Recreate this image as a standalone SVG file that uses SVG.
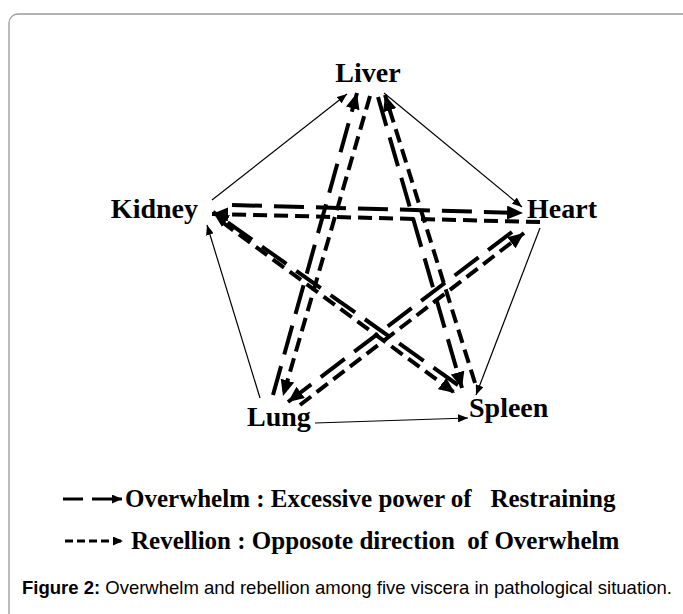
<svg xmlns="http://www.w3.org/2000/svg" width="683" height="614" viewBox="0 0 683 614">
<style>
.lbl{font-family:"Liberation Serif","Times New Roman",serif;font-weight:bold;font-size:28px;fill:#000}
.leg{font-family:"Liberation Serif","Times New Roman",serif;font-weight:bold;font-size:25px;fill:#000;white-space:pre}
.cap{font-family:"Liberation Sans",Arial,sans-serif;font-size:18.5px;fill:#000}
.thin{stroke:#000;stroke-width:1.2;fill:none;marker-end:url(#ah)}
.ow{stroke:#000;stroke-width:4;fill:none;stroke-dasharray:30 12;marker-end:url(#bh)}
.rv{stroke:#000;stroke-width:4;fill:none;stroke-dasharray:14 7;marker-end:url(#bh)}
</style>
<defs>
<marker id="ah" markerUnits="userSpaceOnUse" markerWidth="10" markerHeight="8" refX="10" refY="4" orient="auto"><path d="M0,0 L10,4 L0,8 z" fill="#000"/></marker>
<marker id="bh" markerUnits="userSpaceOnUse" markerWidth="16" markerHeight="14" refX="16" refY="7" orient="auto"><path d="M0,0 L16,7 L0,14 z" fill="#000"/></marker>
<marker id="lh" markerUnits="userSpaceOnUse" markerWidth="10" markerHeight="9" refX="10" refY="4.5" orient="auto"><path d="M0,0 L10,4.5 L0,9 z" fill="#000"/></marker>
</defs>
<rect x="9" y="14" width="690" height="620" rx="9" fill="#fff" stroke="#999" stroke-width="1.3"/>
<g id="connectors">
<line class="thin" x1="212" y1="200" x2="347" y2="94"/>
<line class="thin" x1="384" y1="93" x2="522" y2="207"/>
<line class="thin" x1="540" y1="228" x2="476" y2="395"/>
<line class="thin" x1="315" y1="423" x2="468" y2="418"/>
<line class="thin" x1="260" y1="398" x2="207" y2="225"/>
<line class="ow" x1="232" y1="205" x2="523" y2="213"/>
<line class="rv" x1="540" y1="222" x2="212" y2="214"/>
<line class="ow" x1="512" y1="232" x2="288" y2="402"/>
<line class="rv" x1="300" y1="405" x2="524" y2="233"/>
<line class="ow" x1="273" y1="395" x2="357" y2="93"/>
<line class="rv" x1="370" y1="96" x2="283" y2="396"/>
<line class="ow" x1="378" y1="97" x2="462" y2="388"/>
<line class="rv" x1="475" y1="383" x2="385" y2="95"/>
<line class="ow" x1="458" y1="385" x2="213" y2="212"/>
<line class="rv" x1="222" y1="222" x2="455" y2="393"/>
</g>
<g id="liver"><text class="lbl" x="368" y="82" text-anchor="middle">Liver</text></g>
<g id="kidney"><text class="lbl" x="198" y="218" text-anchor="end">Kidney</text></g>
<g id="heart"><text class="lbl" x="527" y="218">Heart</text></g>
<g id="lung"><text class="lbl" x="247" y="426">Lung</text></g>
<g id="spleen"><text class="lbl" x="469" y="417">Spleen</text></g>
<g id="legend">
<line x1="63" y1="499" x2="83" y2="499" stroke="#000" stroke-width="3"/>
<line x1="92" y1="499" x2="122" y2="499" stroke="#000" stroke-width="3" marker-end="url(#lh)"/>
<text class="leg" x="125" y="507" xml:space="preserve">Overwhelm : Excessive power of   Restraining</text>
<line x1="65" y1="541" x2="123" y2="541" stroke="#000" stroke-width="3" stroke-dasharray="8 4" marker-end="url(#lh)"/>
<text class="leg" x="131" y="549" xml:space="preserve">Revellion : Opposote direction  of Overwhelm</text>
</g>
<g id="caption"><text class="cap" x="22" y="594"><tspan font-weight="bold">Figure 2:</tspan> Overwhelm and rebellion among five viscera in pathological situation.</text></g>
</svg>
